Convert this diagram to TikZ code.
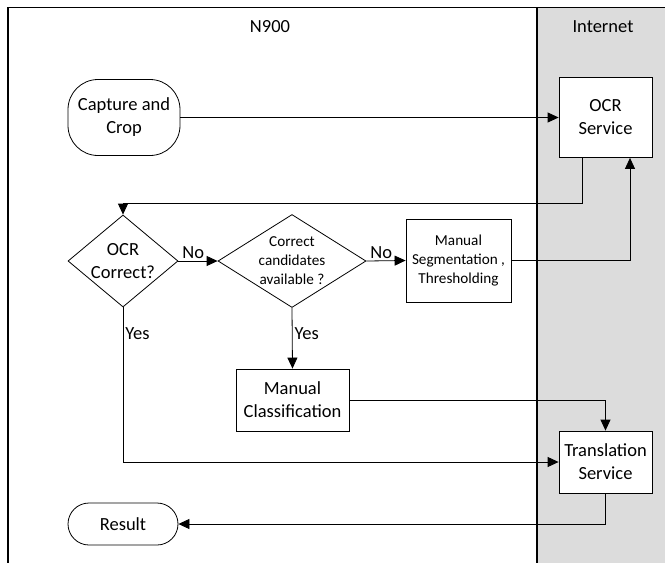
\documentclass[tikz,border=0pt]{standalone}
\usepackage{fontspec}
\setmainfont{Carlito}
\usetikzlibrary{shapes.geometric,arrows.meta}
\definecolor{laneGray}{RGB}{220,220,220}
\begin{document}
\begin{tikzpicture}[x=1pt,y=-1pt,
  line width=0.8pt,
  big/.style={font=\fontsize{18.5}{23}\selectfont},
  small/.style={font=\fontsize{15.2}{19}\selectfont},
  box/.style={draw, fill=white, rectangle, align=center, inner sep=0pt, big},
  term/.style={draw, fill=white, rectangle, align=center, inner sep=0pt, big},
  dia/.style={draw, fill=white, diamond, inner sep=0pt},
  dtext/.style={align=center, inner sep=0pt},
  arr/.style={-{Triangle[length=11pt,width=10pt]}},
  lbl/.style={big, inner sep=2pt}
]
\useasboundingbox (0,0) rectangle (665,563);
% lanes
\fill[laneGray] (537,7) rectangle (665,563);
\draw[line width=1pt] (7,7) -- (665,7);
\draw[line width=1.8pt] (8,7) -- (8,563);
\draw[line width=1.8pt] (537,7) -- (537,563);
\node[big] (hn) at (270,27) {N900};
\node[big] (hi) at (603,27) {Internet};

% nodes
\node[term, minimum width=112, minimum height=76, rounded corners=30pt] (cap) at (124,117.5) {Capture and\\Crop};
\node[box, minimum width=93, minimum height=80] (ocr) at (605.5,117.5) {OCR\\Service};
\node[dia, minimum width=110, minimum height=92] (d1) at (123,261) {};
\node[dtext, big] (d1t) at (d1.center) {OCR\\Correct?};
\node[dia, minimum width=148, minimum height=93] (d2) at (292,261) {};
\node[dtext, small] (d2t) at (d2.center) {Correct\\candidates\\available ?};
\node[box, small, minimum width=105, minimum height=83] (ms) at (458.5,260.5) {Manual\\Segmentation ,\\Thresholding};
\node[box, minimum width=113, minimum height=62] (mc) at (292.5,400) {Manual\\Classification};
\node[box, minimum width=93, minimum height=62] (tr) at (605.5,462) {Translation\\Service};
\node[term, minimum width=110, minimum height=42, rounded corners=21pt] (res) at (123,524) {Result};

% connectors
\coordinate (ob) at ([xshift=-23.5pt]ocr.south);
\coordinate (oi) at ([xshift=24.5pt]ocr.south);
\draw[arr] (cap.east) -- (ocr.west);
\draw[arr] (ob) -- ++(0,45) -| (d1.north);
\draw[arr] (d1.east) -- node[lbl, above, pos=0.38] (no1) {No} (d2.west);
\draw[arr] (d2.east) -- node[lbl, above, pos=0.38] (no2) {No} (ms.west);
\draw[arr] (ms.east) -| (oi);
\draw[arr] (d2.south) -- node[lbl, right, pos=0.42] (yes2) {Yes} (mc.north);
\draw[arr] (mc.east) -| (tr.north);
\draw[arr] (d1.south) |- node[lbl, right, pos=0.085] (yes1) {Yes} (tr.west);
\draw[arr] (tr.south) |- (res.east);
\end{tikzpicture}
\end{document}
